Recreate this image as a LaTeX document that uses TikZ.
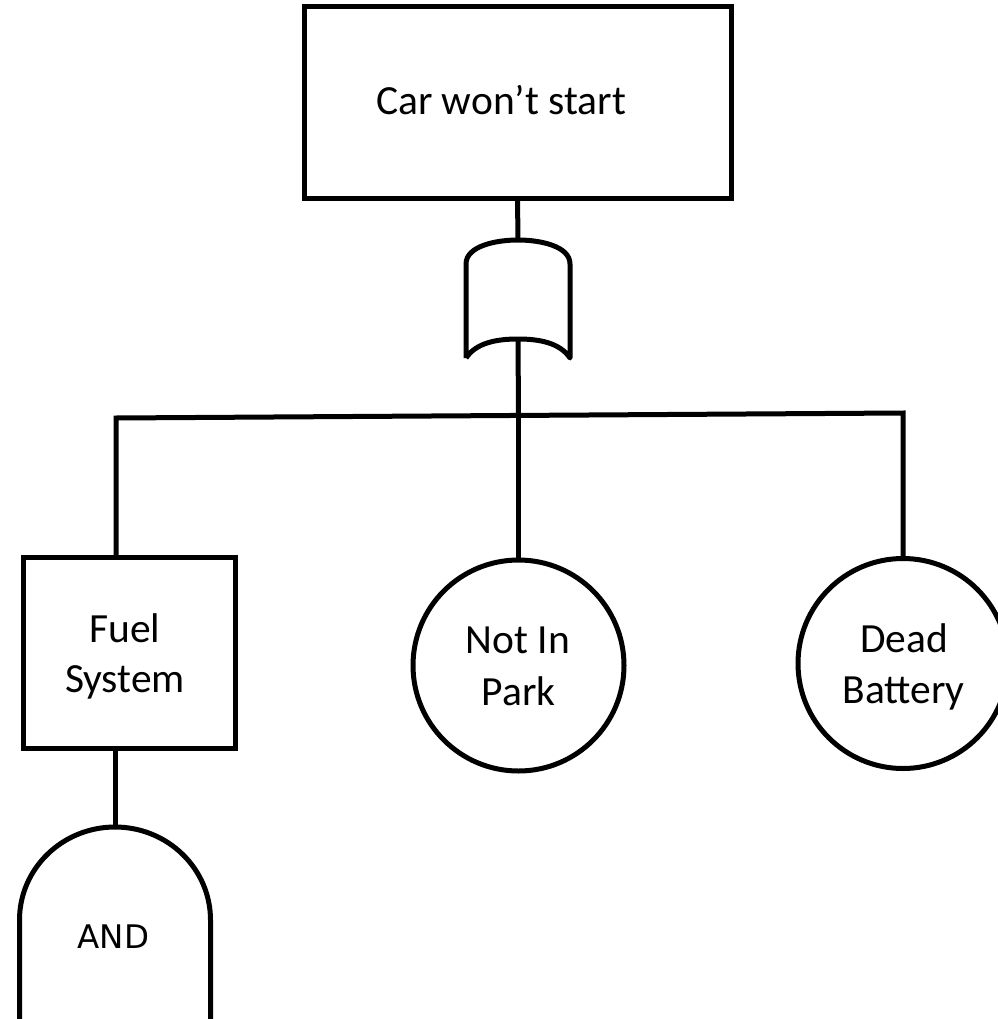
\documentclass[tikz,border=0pt]{standalone}
\usepackage{fontspec}
\setmainfont{Carlito}
\newfontfamily\gatefont{DejaVu Sans}
\begin{document}
\begin{tikzpicture}[x=1pt,y=-1pt,
  treeline/.style={draw=black,line width=5pt,line join=miter},
  gatebox/.style={draw=black,line width=5pt,line join=round},
  eventbox/.style={draw=black,line width=5pt,rectangle,inner sep=0pt,outer sep=0pt},
  basic/.style={draw=black,line width=5pt,circle,inner sep=0pt,outer sep=0pt},
  lbl/.style={font=\fontsize{41.5}{51}\selectfont,inner sep=0pt,anchor=base},
  gatelbl/.style={font=\gatefont\fontsize{32.5}{38}\selectfont,inner sep=0pt,anchor=base}]
\useasboundingbox (0,0) rectangle (997,1019);

% top event
\node[eventbox,minimum width=427pt,minimum height=191pt] (top) at (517.5,102.5) {};
\node[lbl] (toptext) at (501,115) {Car won’t start};

% OR gate
\coordinate (orin) at (518,240);
\coordinate (orout) at (518,339);
\draw[gatebox] (466,358) -- (466,264)
  .. controls (466,246) and (496,240) .. (orin)
  .. controls (540,240) and (570,246) .. (570,264)
  -- (570,358)
  .. controls (560,343) and (540,339) .. (orout)
  .. controls (496,339) and (476,343) .. (466,358);

% intermediate and basic events
\node[eventbox,minimum width=212pt,minimum height=191pt] (fuel) at (129,652.5) {};
\node[lbl] (fuelA) at (125,642) {Fuel};
\node[lbl] (fuelB) at (125,692) {System};

\node[basic,minimum size=211pt] (park) at (518.5,665.5) {};
\node[lbl] (parkA) at (518,653) {Not In};
\node[lbl] (parkB) at (518.5,705) {Park};

\node[basic,minimum size=210pt] (dead) at (903,663.5) {};
\node[lbl] (deadA) at (904,652) {Dead};
\node[lbl] (deadB) at (903.5,703) {Battery};

% bus
\coordinate (busL) at (116,418);
\coordinate (busR) at (903,413);
\coordinate (busM) at (518.5,415.4);
\coordinate (fuelin) at (116,557);

% AND gate
\coordinate (andtop) at (115,827);
\draw[gatebox,line cap=butt] (19.5,1019) -- (19.5,920)
  .. controls (19.5,868.6) and (62.3,827) .. (andtop)
  .. controls (167.7,827) and (210.5,868.6) .. (210.5,920)
  -- (210.5,1019);
\node[gatelbl] (andtext) at (113.5,948) {AND};
\coordinate (fuelout) at (115,748);

% connectors
\draw[treeline] (top.south) -- (orin);
\draw[treeline] (orout) -- (busM);
\draw[treeline] (fuelin) -- (busL) -- (busR) -- (dead.north);
\draw[treeline] (busM) -- (park.north);
\draw[treeline] (fuelout) -- (andtop);
\end{tikzpicture}
\end{document}
